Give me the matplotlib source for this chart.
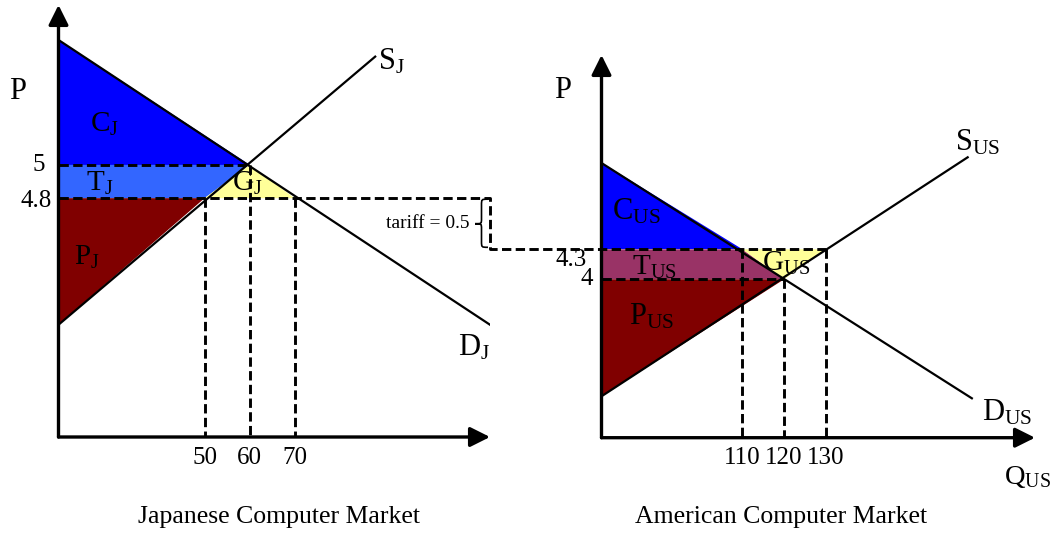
import matplotlib.pyplot as plt
import matplotlib.transforms as mtransforms
from matplotlib.path import Path
from matplotlib.patches import PathPatch
from matplotlib.lines import Line2D

plt.rcParams['font.family'] = 'Liberation Serif'
plt.rcParams['mathtext.fontset'] = 'custom'
plt.rcParams['mathtext.rm'] = 'Liberation Serif'
plt.rcParams['mathtext.it'] = 'Liberation Serif:italic'

# Japanese market (quantity, price)
jp_q_range = [17.56, 113.4]
jp_p_range = [3.366, 5.96]
jp_demand_q = [17.56, 113.4]
jp_demand_p = [5.75, 4.04]
jp_supply_q = [17.56, 87.9]
jp_supply_p = [4.04, 5.65]
jp_q = [50, 60, 70]            # supply, autarky, demand
jp_p = [5, 4.8]                # autarky price, price after tariff

# American market
us_q_range = [76.34, 180.0]
us_p_range = [2.416, 6.243]
us_demand_q = [76.34, 164.9]
us_demand_p = [5.163, 2.81]
us_supply_q = [76.34, 163.9]
us_supply_p = [2.83, 5.22]
us_q = [110, 120, 130]         # supply, autarky, demand
us_p = [4.3, 4]                # price after tariff, autarky price

tariff = 0.5

BLUE = '#0000ff'
LIGHT_BLUE = '#3366ff'
YELLOW = '#ffff99'
DARK_RED = '#800000'
PLUM = '#993366'
DASH = dict(color='black', lw=2.1, linestyle=(0, (3.2, 1.5)), zorder=2)

fig = plt.figure(figsize=(10.54, 5.33), dpi=100)
W, H = 1054, 533
axL = fig.add_axes([58.5 / W, (H - 437) / H, (490 - 58.5) / W, (437 - 5) / H])
axR = fig.add_axes([601.5 / W, (H - 437.7) / H, (1035 - 601.5) / W, (437.7 - 55) / H])


def setup(ax, qr, pr, dq, dp, sq, sp, qticks):
    ax.set_xlim(qr)
    ax.set_ylim(pr)
    for s in ax.spines.values():
        s.set_visible(False)
    ax.set_yticks([])
    ax.set_xticks(qticks, [str(q) for q in qticks])
    ax.tick_params(axis='x', length=0, pad=7, labelsize=18)
    ax.patch.set_alpha(0)
    ax.plot(dq, dp, color='black', lw=1.6, zorder=3)
    ax.plot(sq, sp, color='black', lw=1.6, zorder=3)
    arrow = dict(arrowstyle='-|>,head_length=0.6,head_width=0.3', lw=2.4,
                 color='black', shrinkA=0, shrinkB=0, mutation_scale=20)
    ax.annotate('', xy=(qr[0], pr[1]), xytext=(qr[0], pr[0]), arrowprops=arrow, zorder=4)
    ax.annotate('', xy=(qr[1], pr[0]), xytext=(qr[0], pr[0]), arrowprops=arrow, zorder=4)


setup(axL, jp_q_range, jp_p_range, jp_demand_q, jp_demand_p, jp_supply_q, jp_supply_p, jp_q)
setup(axR, us_q_range, us_p_range, us_demand_q, us_demand_p, us_supply_q, us_supply_p, us_q)

# Japan areas
q0, p0 = jp_q_range[0], jp_p_range[0]
axL.fill([q0, q0, jp_q[1]], [jp_demand_p[0], jp_p[0], jp_p[0]], color=BLUE, lw=0, zorder=1)
axL.fill([q0, jp_q[1], jp_q[0], q0], [jp_p[0], jp_p[0], jp_p[1], jp_p[1]], color=LIGHT_BLUE, lw=0, zorder=1)
axL.fill([jp_q[0], jp_q[1], jp_q[2]], [jp_p[1], jp_p[0], jp_p[1]], color=YELLOW, lw=0, zorder=1)
axL.fill([q0, jp_q[0], q0], [jp_p[1], jp_p[1], jp_supply_p[0]], color=DARK_RED, lw=0, zorder=1)
axL.plot([q0, jp_q[1]], [jp_p[0], jp_p[0]], **DASH)
axL.plot([jp_q[0], jp_q[0]], [jp_p[1], p0], **DASH)
axL.plot([jp_q[1], jp_q[1]], [jp_p[0], p0], **DASH)
axL.plot([jp_q[2], jp_q[2]], [jp_p[1], p0], **DASH)

# US areas
u0, v0 = us_q_range[0], us_p_range[0]
axR.fill([u0, u0, us_q[0]], [us_demand_p[0], us_p[0], us_p[0]], color=BLUE, lw=0, zorder=1)
axR.fill([u0, us_q[0], us_q[1], u0], [us_p[0], us_p[0], us_p[1], us_p[1]], color=PLUM, lw=0, zorder=1)
axR.fill([us_q[0], us_q[2], us_q[1]], [us_p[0], us_p[0], us_p[1]], color=YELLOW, lw=0, zorder=1)
axR.fill([u0, us_q[1], u0], [us_p[1], us_p[1], us_supply_p[0]], color=DARK_RED, lw=0, zorder=1)
axR.plot([u0, us_q[1]], [us_p[1], us_p[1]], **DASH)
axR.plot([us_q[0], us_q[0]], [us_p[0], v0], **DASH)
axR.plot([us_q[1], us_q[1]], [us_p[1], v0], **DASH)
axR.plot([us_q[2], us_q[2]], [us_p[0], v0], **DASH)

# tariff link: Japanese price after tariff -> American price
qb = jp_q_range[1]
a0 = axL.transData.transform((q0, jp_p[1]))
a1 = axL.transData.transform((qb, jp_p[1]))
b_y = axR.transData.transform((us_q[2], us_p[0]))
link = Line2D([a0[0], a1[0], a1[0], b_y[0]], [a0[1], a1[1], b_y[1], b_y[1]],
              transform=mtransforms.IdentityTransform(), **DASH)
fig.add_artist(link)

# brace
xr, yt, yb, w = a1[0] - 2, a1[1] - 1, b_y[1] + 2, 13
xm, xt, ym = xr - w / 2, xr - w, (a1[1] + b_y[1]) / 2
verts = [(xr, yt), (xm, yt), (xm, yt), (xm, yt - 6), (xm, ym + 5),
         (xm, ym), (xm, ym), (xt, ym), (xm, ym), (xm, ym), (xm, ym - 5),
         (xm, yb + 6), (xm, yb), (xm, yb), (xr, yb)]
codes = [Path.MOVETO] + [Path.CURVE4] * 3 + [Path.LINETO] + [Path.CURVE4] * 6 + \
        [Path.LINETO] + [Path.CURVE4] * 3
fig.add_artist(PathPatch(Path(verts, codes), fill=False, lw=1.2, color='black',
                         transform=mtransforms.IdentityTransform()))
fig.text(xt - 5, ym, f'tariff = {tariff}', ha='right', va='center', fontsize=14,
         transform=mtransforms.IdentityTransform())

# price labels
axL.annotate('5', xy=(q0, jp_p[0]), xytext=(-9.7, 0), textcoords='offset points',
             ha='right', va='center', fontsize=18)
axL.annotate('4.8', xy=(q0, jp_p[1]), xytext=(-4.7, -2), textcoords='offset points',
             ha='right', va='center', fontsize=18)
axR.annotate('4.3', xy=(u0, us_p[0]), xytext=(-10.4, -7.7), textcoords='offset points',
             ha='right', va='center', fontsize=18)
axR.annotate('4', xy=(u0, us_p[1]), xytext=(-6, 0), textcoords='offset points',
             ha='right', va='center', fontsize=18)

# curve and area labels
big = dict(fontsize=22, va='center')
axL.text(8.56, 5.438, 'P', ha='center', **big)
axL.text(88.6, 5.62, r'$\mathrm{S}_\mathrm{J}$', ha='left', **big)
axL.text(106.3, 3.90, r'$\mathrm{D}_\mathrm{J}$', ha='left', **big)
axL.text(27.7, 5.246, r'$\mathrm{C}_\mathrm{J}$', ha='center', fontsize=21, va='center')
axL.text(26.8, 4.89, r'$\mathrm{T}_\mathrm{J}$', ha='center', fontsize=21, va='center')
axL.text(59.4, 4.89, r'$\mathrm{G}_\mathrm{J}$', ha='center', fontsize=21, va='center')
axL.text(23.9, 4.447, r'$\mathrm{P}_\mathrm{J}$', ha='center', fontsize=21, va='center')

axR.text(67.1, 5.883, 'P', ha='center', **big)
axR.text(160.9, 5.363, r'$\mathrm{S}_\mathrm{US}$', ha='left', **big)
axR.text(167.4, 2.663, r'$\mathrm{D}_\mathrm{US}$', ha='left', **big)
axR.text(172.6, 2.023, r'$\mathrm{Q}_\mathrm{US}$', ha='left', fontsize=20.5, va='center')
axR.text(84.6, 4.673, r'$\mathrm{C}_\mathrm{US}$', ha='center', fontsize=22, va='center')
axR.text(89.1, 4.123, r'$\mathrm{T}_\mathrm{US}$', ha='center', fontsize=21, va='center')
axR.text(120.5, 4.163, r'$\mathrm{G}_\mathrm{US}$', ha='center', fontsize=21, va='center')
axR.text(88.2, 3.623, r'$\mathrm{P}_\mathrm{US}$', ha='center', fontsize=22, va='center')

fig.text(279 / W, 1 - 517 / H, 'Japanese Computer Market', ha='center', va='center', fontsize=18.5)
fig.text(781 / W, 1 - 517 / H, 'American Computer Market', ha='center', va='center', fontsize=18.5)

fig.savefig('out.png', dpi=100)
